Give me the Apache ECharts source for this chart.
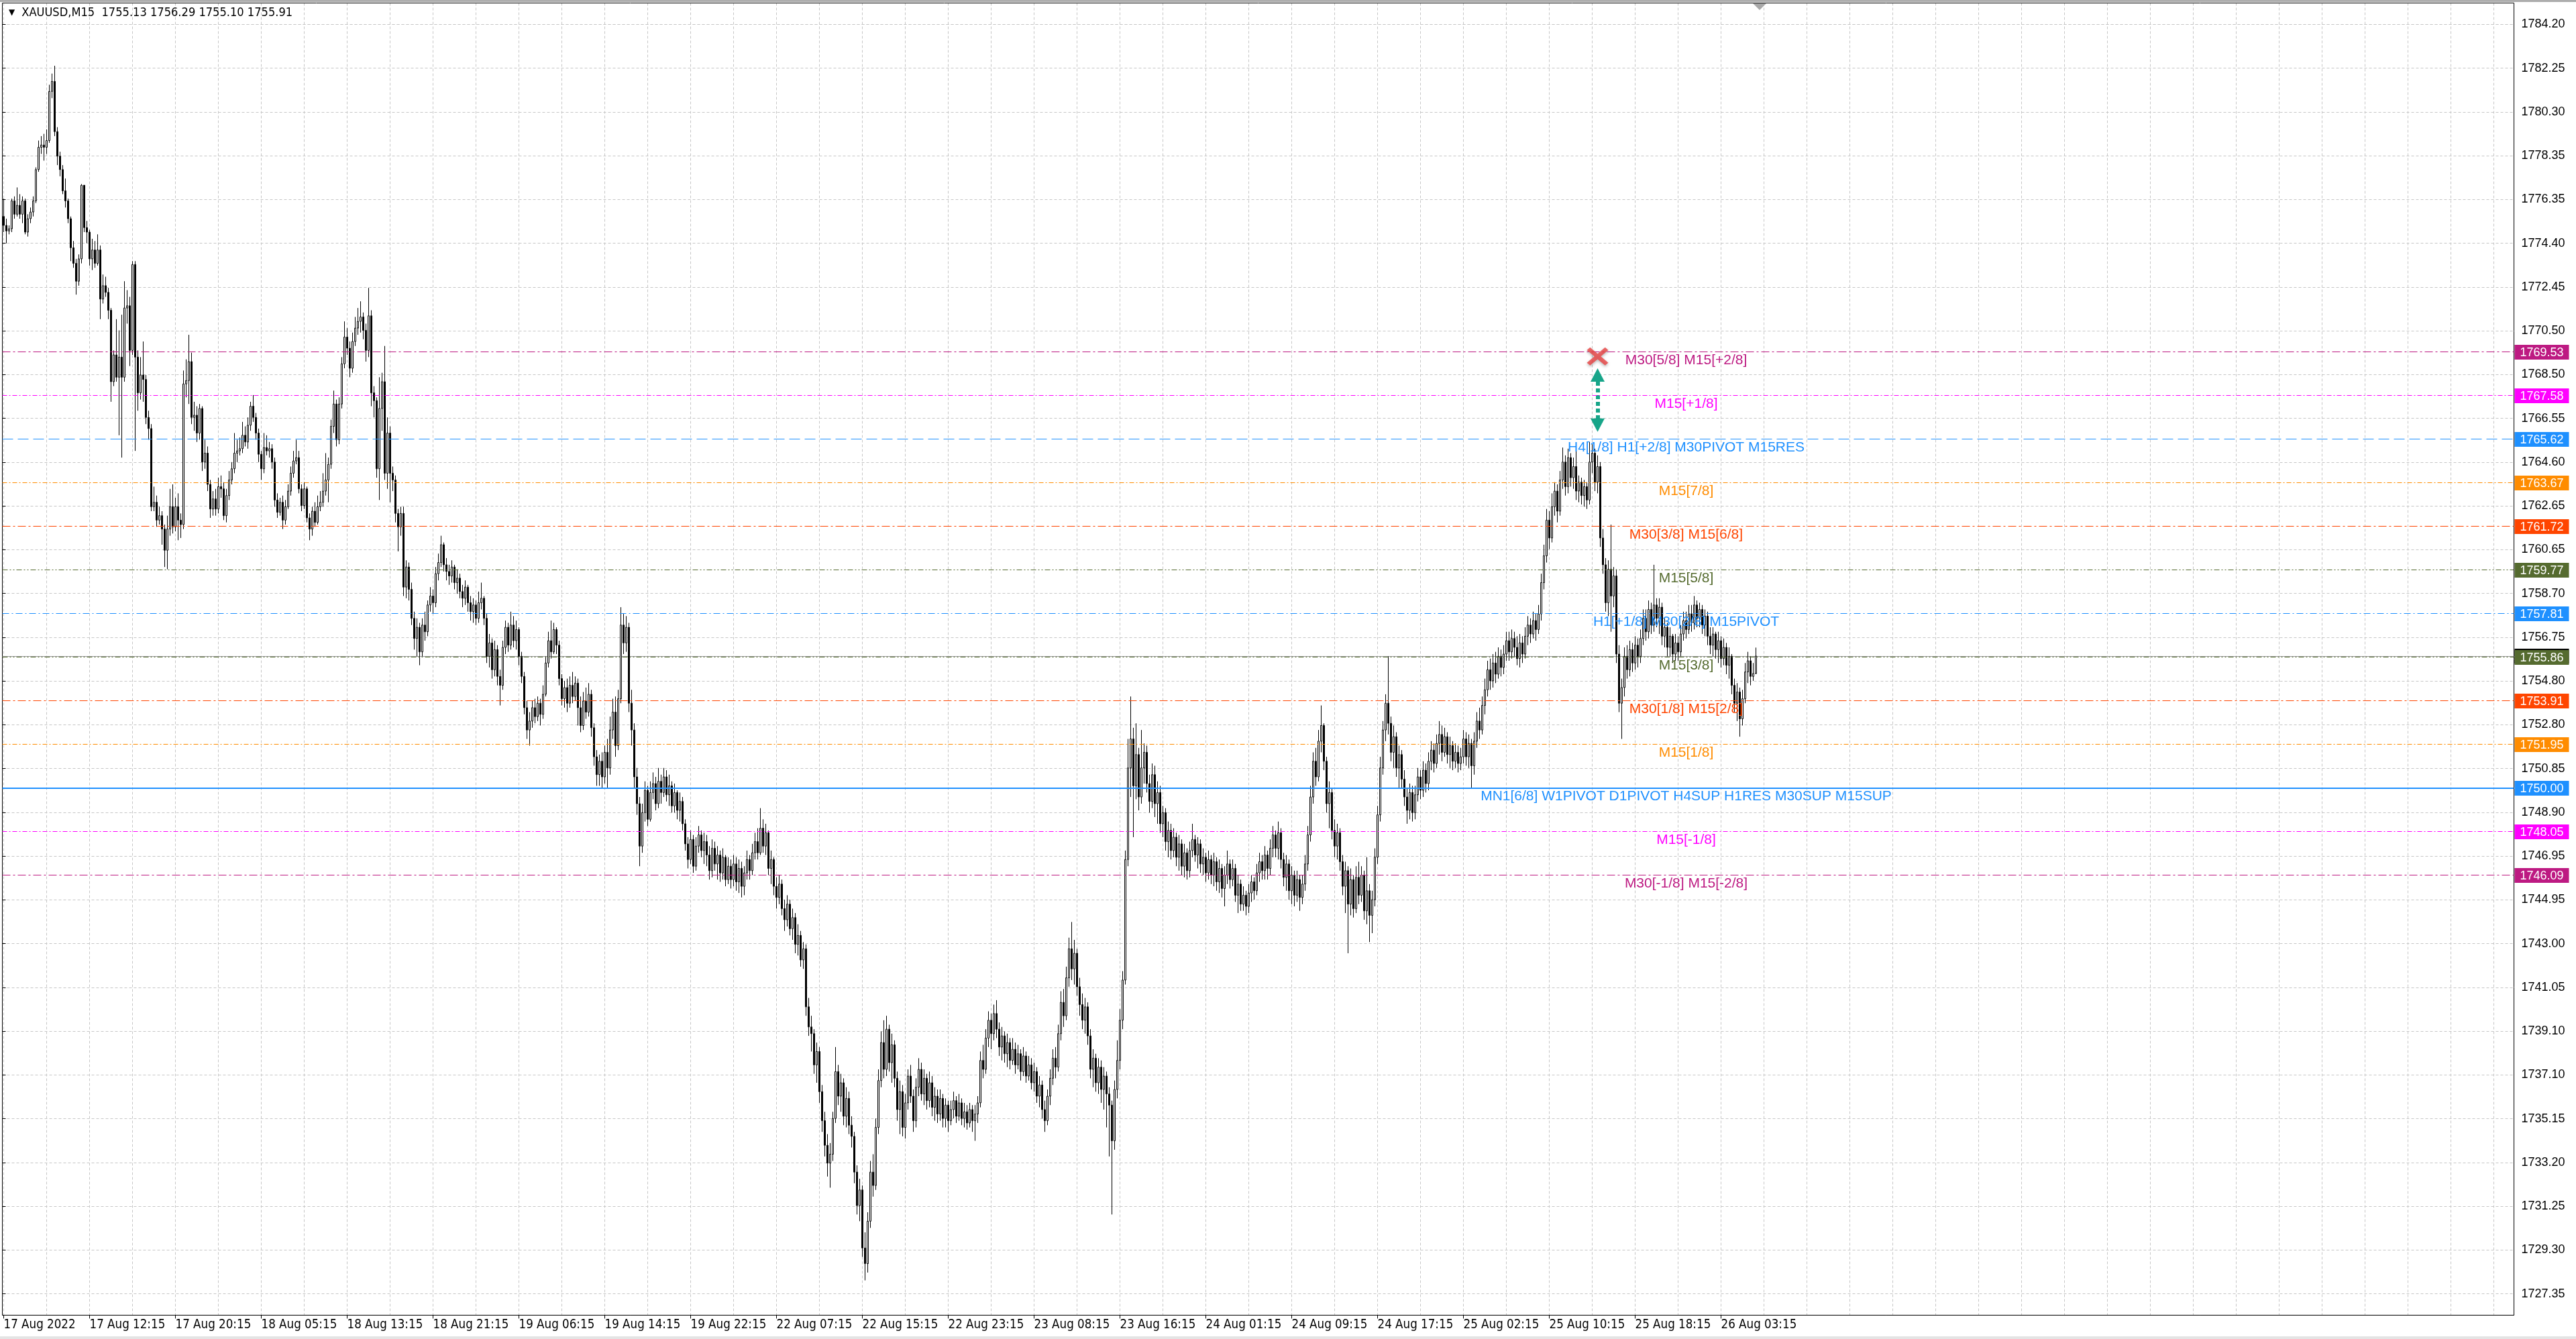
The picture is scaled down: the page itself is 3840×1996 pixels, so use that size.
<!DOCTYPE html>
<html><head><meta charset="utf-8">
<script src="https://cdn.jsdelivr.net/npm/echarts@6/dist/echarts.min.js"></script>
<style>html,body{margin:0;padding:0;background:#fff;overflow:hidden}#c{width:3840px;height:1996px}</style>
</head><body><div id="c"></div><script>
// ---------------- DATA ----------------
const symbolName = 'XAUUSD,M15';
const timeLabels = ['17 Aug 2022','17 Aug 12:15','17 Aug 20:15','18 Aug 05:15','18 Aug 13:15','18 Aug 21:15','19 Aug 06:15','19 Aug 14:15','19 Aug 22:15','22 Aug 07:15','22 Aug 15:15','22 Aug 23:15','23 Aug 08:15','23 Aug 16:15','24 Aug 01:15','24 Aug 09:15','24 Aug 17:15','25 Aug 02:15','25 Aug 10:15','25 Aug 18:15','26 Aug 03:15'];
const yTickLabels = ['1727.35','1729.30','1731.25','1733.20','1735.15','1737.10','1739.10','1741.05','1743.00','1744.95','1746.95','1748.90','1750.85','1752.80','1754.80','1756.75','1758.70','1760.65','1762.65','1764.60','1766.55','1768.50','1770.50','1772.45','1774.40','1776.35','1778.35','1780.30','1782.25','1784.20'];

const opens = [
1775.6,1775.2,1774.95,1775.05,1776.3,1775.7,1776.1,1775.7,1776.3,1774.9,1775.5,1775.8,1776.3,1777.7,1778.7,1778.8,
1778.7,1779.0,1781.2,1781.65,1779.4,1778.3,1777.7,1776.75,1776.3,1775.5,1774.2,1773.5,1772.7,1773.7,1777.0,1775.1,
1774.9,1773.7,1774.1,1773.5,1774.1,1771.9,1772.5,1772.2,1771.4,1768.2,1769.4,1768.4,1769.3,1768.4,1771.5,1771.6,
1769.6,1773.45,1769.3,1767.7,1768.5,1768.3,1766.6,1766.1,1762.6,1762.8,1762.0,1762.2,1761.6,1760.65,1761.6,1762.6,
1761.7,1762.6,1762.0,1761.8,1768.1,1768.25,1769.1,1766.6,1766.7,1765.9,1767.0,1764.6,1765.0,1763.6,1762.5,1762.95,
1762.5,1763.5,1763.4,1762.2,1763.1,1763.8,1764.3,1765.0,1765.1,1765.2,1765.8,1765.5,1766.25,1767.1,1766.6,1765.9,
1764.95,1764.3,1765.25,1765.1,1765.2,1764.6,1762.9,1762.35,1762.8,1762.0,1762.6,1763.3,1764.1,1764.65,1764.8,1763.4,
1762.65,1763.4,1762.1,1761.6,1762.4,1761.9,1762.6,1762.8,1763.3,1763.8,1764.5,1766.2,1767.2,1765.6,1767.2,1769.0,
1770.2,1769.7,1768.8,1770.0,1770.6,1770.9,1771.1,1770.5,1769.6,1771.15,1767.7,1767.35,1764.3,1767.0,1768.2,1764.1,
1765.9,1764.1,1763.8,1762.3,1761.7,1762.3,1759.0,1759.9,1758.9,1757.6,1756.7,1757.2,1756.1,1757.3,1757.0,1758.2,
1758.6,1758.3,1759.6,1760.1,1760.9,1760.0,1759.7,1759.5,1759.9,1759.2,1759.4,1758.8,1758.5,1759.0,1758.3,1757.9,
1758.2,1757.6,1758.3,1758.5,1757.6,1755.9,1756.5,1755.3,1756.2,1755.0,1754.6,1756.3,1757.2,1756.4,1757.3,1756.6,
1757.1,1755.9,1755.0,1753.6,1752.6,1753.0,1753.6,1753.2,1753.8,1753.3,1754.2,1755.6,1756.6,1756.1,1757.1,1756.4,
1754.9,1754.0,1754.5,1753.8,1754.6,1754.1,1754.7,1753.6,1752.8,1753.9,1753.4,1754.2,1752.7,1751.4,1750.6,1751.2,
1750.5,1751.6,1750.9,1752.6,1753.4,1751.9,1754.0,1757.3,1756.5,1757.2,1753.8,1752.6,1750.5,1749.3,1747.4,1748.9,
1749.9,1748.6,1749.8,1750.2,1749.3,1750.3,1749.8,1750.5,1749.7,1750.1,1749.2,1749.8,1749.0,1749.4,1748.4,1747.5,
1746.8,1747.7,1746.5,1747.4,1747.9,1747.2,1747.6,1747.0,1746.3,1747.3,1746.6,1747.0,1746.2,1746.9,1745.9,1746.5,
1745.9,1746.6,1745.8,1746.4,1745.6,1746.2,1746.8,1746.3,1747.1,1747.6,1747.1,1748.2,1747.4,1748.0,1746.4,1746.8,
1745.6,1745.1,1745.7,1744.6,1744.1,1744.8,1743.7,1744.2,1743.0,1743.4,1742.3,1742.8,1740.2,1739.3,1739.0,1737.6,
1738.2,1736.4,1735.1,1734.0,1733.2,1733.6,1735.2,1737.3,1736.2,1736.8,1735.3,1736.1,1734.9,1734.4,1732.8,1731.3,
1732.0,1729.4,1728.7,1730.6,1732.8,1732.2,1734.8,1736.9,1738.6,1737.4,1739.2,1737.7,1738.5,1737.0,1735.6,1736.4,
1734.8,1735.9,1737.1,1736.2,1735.1,1736.6,1737.4,1736.3,1737.0,1736.0,1736.8,1735.7,1736.2,1735.4,1736.1,1735.2,
1735.8,1735.1,1735.6,1736.0,1735.3,1735.9,1735.2,1735.5,1735.0,1735.6,1735.1,1735.4,1735.9,1737.8,1737.4,1738.8,
1739.6,1739.0,1739.9,1739.2,1738.4,1738.9,1738.1,1738.6,1737.8,1738.3,1737.6,1738.1,1737.3,1738.0,1737.1,1737.6,
1736.8,1737.3,1736.2,1736.7,1735.6,1735.1,1736.2,1737.0,1737.9,1737.5,1739.0,1740.4,1739.8,1741.5,1742.8,1741.9,
1742.6,1741.1,1740.3,1739.6,1740.2,1738.9,1737.4,1737.9,1736.8,1737.5,1736.5,1737.1,1736.3,1735.8,1734.2,1736.5,
1737.8,1739.6,1741.4,1746.8,1750.9,1752.2,1750.1,1751.5,1749.6,1750.9,1751.6,1750.2,1749.4,1750.6,1749.3,1749.8,
1748.4,1748.9,1747.6,1748.1,1747.2,1747.8,1746.9,1747.5,1746.5,1747.1,1746.3,1747.2,1747.7,1747.0,1747.5,1746.6,
1746.9,1746.2,1746.8,1746.1,1746.7,1745.8,1746.4,1745.5,1746.1,1746.6,1745.9,1746.4,1745.2,1745.7,1744.8,1745.2,
1744.7,1745.3,1745.8,1745.4,1746.2,1746.7,1746.3,1747.0,1746.4,1747.3,1747.9,1747.3,1748.0,1746.8,1746.0,1746.6,
1745.4,1746.1,1745.2,1745.9,1745.1,1745.7,1746.6,1747.9,1749.6,1751.2,1750.5,1752.1,1752.8,1751.2,1749.3,1749.8,
1748.1,1747.4,1748.0,1746.7,1745.6,1746.3,1744.8,1745.9,1744.6,1746.0,1745.2,1746.1,1744.5,1745.4,1744.3,1745.0,
1746.9,1748.8,1750.9,1752.6,1753.8,1752.9,1751.6,1752.3,1750.9,1751.5,1750.4,1749.6,1749.0,1749.8,1748.9,1749.7,
1750.5,1749.9,1750.8,1750.2,1751.2,1751.7,1751.1,1752.0,1752.4,1751.6,1752.3,1751.5,1751.9,1751.2,1751.6,1751.1,
1751.4,1752.2,1751.4,1752.0,1751.0,1752.1,1753.0,1752.6,1753.7,1754.4,1755.3,1754.8,1755.6,1755.1,1755.9,1755.4,
1756.0,1756.6,1756.1,1756.7,1756.3,1755.8,1756.5,1756.0,1756.8,1757.3,1756.9,1757.5,1757.1,1757.8,1759.2,1760.4,
1762.0,1761.2,1762.6,1763.3,1762.4,1763.8,1764.6,1763.5,1764.8,1763.9,1764.4,1763.3,1763.7,1763.1,1763.5,1762.9,
1764.6,1765.0,1763.7,1764.4,1761.2,1760.0,1758.3,1759.8,1758.6,1759.5,1756.0,1753.8,1754.5,1755.9,1755.3,1756.2,
1755.6,1756.4,1755.9,1756.7,1757.6,1757.0,1758.0,1757.3,1758.2,1757.6,1758.1,1756.8,1757.2,1756.3,1756.8,1756.0,
1756.5,1756.1,1756.9,1757.5,1757.1,1757.8,1757.4,1758.2,1757.6,1758.0,1757.3,1757.7,1756.8,1756.4,1756.9,1756.2,
1756.6,1755.8,1756.3,1755.5,1755.9,1754.6,1753.8,1754.3,1753.1,1754.0,1755.2,1755.7,1755.0,1755.13
];
const highs = [
1776.4,1775.5,1775.2,1776.4,1776.5,1776.9,1776.6,1776.5,1776.4,1775.7,1776.0,1776.5,1777.8,1779.0,1779.2,1779.3,
1779.5,1781.5,1782.0,1782.35,1779.6,1778.5,1777.9,1777.3,1776.4,1775.6,1774.5,1773.7,1773.9,1777.05,1777.0,1775.4,
1775.0,1774.6,1774.5,1774.8,1774.3,1773.0,1772.9,1772.4,1771.5,1769.6,1771.0,1770.5,1771.2,1772.7,1772.3,1772.0,
1773.6,1773.6,1769.6,1769.3,1770.0,1768.5,1766.9,1766.3,1763.5,1763.1,1762.6,1762.4,1761.8,1762.2,1763.4,1763.6,
1763.0,1763.2,1762.3,1768.7,1769.2,1770.3,1769.5,1767.3,1767.1,1767.2,1767.1,1765.6,1765.3,1763.8,1763.3,1763.4,
1763.9,1764.0,1763.7,1763.4,1764.2,1764.6,1765.9,1765.6,1765.7,1766.4,1766.2,1766.6,1767.3,1767.6,1766.8,1766.1,
1765.1,1765.9,1765.8,1765.5,1765.4,1764.8,1763.2,1763.0,1763.1,1762.9,1763.6,1764.4,1765.1,1765.6,1765.1,1763.6,
1763.7,1763.5,1762.3,1762.6,1762.8,1763.1,1763.3,1764.1,1765.0,1764.8,1766.5,1767.8,1767.4,1767.5,1769.3,1770.9,
1770.6,1770.0,1770.4,1771.1,1771.5,1771.8,1771.3,1770.8,1772.4,1771.4,1768.0,1767.5,1768.4,1768.6,1769.8,1766.6,
1766.2,1764.4,1764.0,1762.5,1762.6,1762.6,1760.2,1760.1,1759.2,1757.9,1757.6,1757.4,1757.6,1757.9,1758.4,1759.0,
1758.9,1759.9,1760.5,1761.3,1761.0,1760.3,1760.0,1760.2,1760.0,1759.8,1759.6,1759.1,1759.3,1759.1,1758.6,1758.5,
1758.4,1758.8,1759.2,1758.6,1757.8,1756.9,1756.7,1756.6,1756.4,1755.3,1756.6,1757.5,1757.4,1757.9,1757.7,1757.5,
1757.2,1756.1,1755.2,1753.9,1753.4,1753.9,1754.0,1754.1,1754.0,1754.6,1755.9,1757.0,1757.5,1757.4,1757.2,1756.6,
1755.1,1754.8,1754.9,1755.0,1755.2,1755.0,1754.9,1754.1,1754.3,1754.5,1754.7,1754.4,1752.9,1751.7,1751.5,1751.6,
1751.9,1752.2,1753.2,1754.0,1754.1,1754.4,1758.1,1757.8,1757.7,1757.4,1754.4,1752.9,1750.9,1749.6,1749.3,1750.3,
1750.1,1750.3,1750.7,1750.5,1750.9,1750.6,1750.9,1750.8,1750.6,1750.3,1750.2,1749.9,1749.8,1749.6,1748.6,1747.8,
1748.1,1747.9,1747.8,1748.3,1748.1,1748.0,1747.9,1747.4,1747.7,1747.6,1747.4,1747.2,1747.3,1747.0,1746.9,1746.8,
1747.0,1746.9,1746.8,1746.7,1746.5,1747.2,1747.0,1747.5,1748.0,1748.2,1749.1,1748.6,1748.4,1748.1,1747.2,1746.9,
1746.0,1746.1,1745.9,1745.0,1745.2,1745.0,1744.6,1744.4,1743.9,1743.6,1743.1,1743.0,1740.6,1739.8,1739.2,1738.6,
1738.4,1736.7,1735.5,1734.5,1734.1,1735.5,1738.4,1737.6,1737.2,1737.0,1736.6,1736.4,1735.3,1734.6,1733.1,1732.5,
1732.2,1730.1,1731.0,1733.3,1733.6,1735.2,1737.4,1739.1,1739.6,1739.8,1739.4,1739.0,1738.7,1737.3,1736.9,1736.7,
1736.3,1737.4,1737.6,1736.5,1737.0,1737.9,1737.7,1737.4,1737.2,1737.3,1737.1,1736.6,1736.5,1736.5,1736.3,1736.1,
1736.0,1736.0,1736.4,1736.2,1736.3,1736.1,1735.9,1735.8,1735.9,1735.8,1735.8,1736.2,1738.2,1738.5,1739.2,1740.0,
1739.9,1740.3,1740.5,1739.5,1739.3,1739.1,1739.0,1738.8,1738.8,1738.6,1738.5,1738.3,1738.4,1738.2,1738.0,1737.9,
1737.7,1737.5,1737.1,1736.9,1736.0,1736.5,1737.4,1738.3,1738.4,1739.4,1740.9,1741.0,1742.0,1743.3,1744.0,1743.2,
1742.8,1741.5,1740.8,1740.6,1740.4,1739.2,1738.3,1738.1,1737.9,1737.8,1737.5,1737.3,1736.6,1736.0,1736.9,1738.7,
1740.1,1741.8,1747.2,1752.2,1754.1,1752.7,1752.9,1751.8,1752.6,1752.0,1751.9,1750.6,1751.1,1751.0,1750.3,1750.1,
1749.2,1749.1,1748.5,1748.4,1748.2,1748.0,1747.9,1747.7,1747.5,1747.3,1747.6,1748.4,1747.9,1747.8,1747.7,1747.3,
1747.1,1747.2,1747.0,1747.1,1746.9,1746.8,1746.6,1746.5,1747.2,1746.8,1746.8,1746.6,1746.1,1745.9,1745.6,1745.4,
1745.7,1746.1,1746.0,1746.6,1747.1,1747.0,1747.4,1747.2,1747.7,1748.3,1748.1,1748.5,1748.2,1747.1,1747.0,1746.8,
1746.5,1746.3,1746.3,1746.1,1746.1,1747.0,1748.3,1750.1,1751.6,1751.8,1752.6,1753.7,1752.9,1751.4,1750.3,1750.0,
1748.6,1748.4,1748.2,1747.0,1746.7,1746.5,1746.4,1746.1,1746.5,1746.7,1746.5,1746.3,1746.9,1745.7,1745.4,1747.3,
1749.2,1751.4,1753.0,1754.2,1755.9,1753.2,1752.8,1752.5,1751.9,1751.7,1750.8,1750.0,1750.2,1750.1,1750.1,1750.9,
1750.8,1751.2,1751.1,1751.6,1752.1,1752.0,1752.4,1753.0,1752.8,1752.7,1752.5,1752.3,1752.1,1752.0,1751.9,1751.8,
1752.6,1752.5,1752.4,1752.2,1752.5,1753.4,1753.6,1754.1,1754.9,1755.7,1755.8,1756.0,1756.1,1756.3,1756.2,1756.4,
1757.0,1757.0,1757.1,1757.0,1756.8,1756.9,1756.8,1757.2,1757.7,1757.6,1757.9,1757.8,1758.2,1759.6,1760.9,1762.5,
1762.4,1763.2,1763.7,1763.6,1764.2,1765.25,1764.9,1765.2,1765.0,1764.8,1765.1,1764.0,1763.9,1763.8,1763.7,1765.5,
1765.4,1765.2,1764.9,1764.6,1761.6,1760.3,1760.2,1761.8,1759.9,1759.8,1756.4,1754.9,1756.3,1756.4,1756.6,1756.5,
1756.8,1756.7,1757.1,1758.0,1758.0,1758.4,1758.3,1760.0,1758.5,1758.5,1758.3,1757.6,1757.4,1757.2,1756.9,1756.9,
1756.8,1757.3,1757.9,1757.9,1758.2,1758.2,1758.6,1758.4,1758.3,1758.2,1758.0,1757.9,1757.2,1757.2,1757.0,1757.0,
1756.8,1756.7,1756.5,1756.3,1756.0,1754.9,1754.7,1754.5,1754.4,1755.6,1756.1,1755.9,1755.6,1756.29
];
const lows = [
1774.9,1774.4,1774.8,1774.9,1775.5,1775.6,1775.5,1775.3,1774.8,1774.7,1775.3,1775.6,1776.2,1777.6,1778.4,1778.1,
1778.4,1778.9,1780.9,1779.2,1777.9,1777.4,1776.6,1776.0,1775.3,1773.6,1773.3,1772.1,1772.5,1773.5,1774.9,1774.4,
1773.4,1773.2,1773.3,1773.4,1771.0,1771.7,1772.0,1771.0,1767.3,1768.0,1768.2,1765.8,1764.8,1768.2,1770.8,1768.9,
1769.4,1765.1,1766.9,1767.4,1767.3,1766.3,1765.6,1762.4,1762.4,1761.7,1761.8,1760.9,1759.9,1759.8,1761.3,1761.4,
1761.5,1761.1,1761.2,1761.6,1767.5,1767.2,1766.3,1766.0,1765.5,1765.6,1764.2,1764.3,1763.3,1762.1,1762.2,1762.2,
1762.3,1763.0,1762.0,1761.9,1762.9,1763.6,1764.1,1764.6,1764.9,1765.0,1765.3,1765.2,1766.0,1766.4,1765.6,1764.6,
1763.8,1764.1,1764.9,1764.8,1764.3,1762.6,1762.1,1762.2,1761.6,1761.8,1762.5,1763.1,1763.9,1764.5,1763.2,1762.4,
1762.5,1761.9,1761.1,1761.3,1761.7,1761.8,1762.4,1762.6,1763.1,1762.8,1764.3,1765.9,1765.3,1765.4,1767.0,1768.8,
1769.4,1768.4,1768.6,1769.8,1770.3,1770.4,1770.1,1769.1,1769.3,1767.1,1766.6,1763.9,1762.9,1766.0,1763.8,1763.4,
1762.8,1763.3,1761.9,1760.6,1761.3,1758.6,1758.5,1758.4,1757.3,1756.2,1755.9,1755.5,1755.9,1756.6,1756.8,1757.9,
1757.8,1758.1,1759.3,1759.9,1759.7,1759.3,1759.1,1759.2,1758.9,1758.7,1758.5,1758.1,1758.2,1757.9,1757.5,1757.4,
1757.3,1757.4,1758.0,1757.3,1755.6,1755.4,1754.9,1755.0,1754.6,1753.7,1754.4,1756.0,1756.1,1756.2,1756.3,1756.2,
1755.5,1754.7,1753.3,1752.2,1751.9,1752.7,1752.9,1753.0,1752.8,1753.1,1754.1,1755.4,1755.8,1756.0,1756.0,1754.6,
1753.7,1753.6,1753.4,1753.6,1753.8,1753.9,1752.8,1752.5,1752.6,1753.1,1753.2,1752.3,1751.0,1750.1,1750.1,1750.0,
1750.2,1750.0,1750.6,1752.2,1751.4,1751.7,1753.8,1756.0,1756.1,1753.4,1751.9,1750.0,1748.8,1746.5,1747.1,1748.5,
1748.3,1748.5,1749.5,1749.0,1749.1,1749.3,1749.6,1749.4,1749.2,1748.9,1748.9,1748.6,1748.5,1748.1,1747.2,1746.4,
1746.6,1746.2,1746.3,1747.1,1746.9,1746.6,1746.5,1745.9,1746.0,1746.3,1745.9,1745.8,1745.9,1745.6,1745.7,1745.5,
1745.6,1745.4,1745.3,1745.1,1745.2,1745.9,1745.9,1746.1,1746.8,1746.8,1747.0,1747.1,1747.0,1746.1,1745.7,1745.2,
1744.6,1744.8,1744.3,1743.6,1743.8,1743.4,1743.2,1742.6,1742.5,1742.0,1741.9,1739.8,1738.9,1738.2,1737.2,1736.8,
1735.9,1734.6,1733.5,1732.6,1732.1,1733.3,1735.0,1735.8,1735.5,1734.9,1734.8,1734.5,1733.9,1732.3,1730.9,1730.6,
1729.0,1727.95,1728.3,1730.3,1731.7,1732.0,1734.5,1736.6,1737.0,1737.1,1737.3,1736.8,1736.6,1735.1,1734.5,1734.4,
1734.3,1735.6,1735.9,1734.6,1734.8,1736.2,1736.0,1735.8,1735.6,1735.7,1735.3,1735.1,1735.0,1735.1,1734.8,1734.8,
1734.6,1734.9,1735.2,1735.0,1735.1,1734.9,1734.8,1734.7,1734.8,1734.6,1734.2,1735.0,1735.7,1737.0,1737.2,1738.4,
1738.3,1738.7,1738.8,1738.0,1737.8,1737.7,1737.5,1737.4,1737.6,1737.2,1737.4,1736.9,1737.1,1736.8,1736.9,1736.5,
1736.4,1735.9,1735.7,1735.2,1734.6,1734.9,1735.8,1736.7,1737.0,1737.3,1738.7,1739.3,1739.6,1741.1,1741.4,1741.2,
1740.7,1739.8,1739.2,1739.0,1738.5,1737.0,1736.6,1736.4,1736.3,1735.9,1735.6,1734.8,1733.5,1730.9,1733.8,1736.1,
1737.4,1739.2,1741.2,1746.5,1749.6,1747.8,1749.5,1749.0,1749.3,1750.2,1749.8,1748.9,1749.1,1748.7,1748.4,1748.0,
1747.8,1747.2,1746.9,1746.8,1746.9,1746.5,1746.3,1746.1,1746.0,1745.9,1746.0,1746.9,1746.7,1746.4,1746.2,1746.1,
1745.8,1745.9,1745.7,1745.6,1745.4,1745.3,1745.1,1744.7,1745.7,1745.5,1745.6,1744.9,1744.4,1744.5,1744.5,1744.3,
1744.4,1744.9,1745.0,1745.2,1745.8,1745.9,1745.9,1745.9,1746.1,1746.9,1746.9,1746.8,1746.4,1745.6,1745.4,1745.0,
1744.8,1744.7,1744.9,1744.5,1744.8,1745.4,1746.3,1747.6,1749.3,1750.1,1750.3,1751.6,1750.8,1748.9,1748.2,1747.7,
1746.9,1746.8,1746.3,1745.2,1744.4,1742.6,1744.3,1744.2,1744.4,1744.8,1744.9,1744.1,1743.9,1743.1,1743.5,1744.7,
1746.6,1748.5,1750.6,1752.1,1752.4,1751.2,1750.9,1750.5,1750.0,1750.0,1749.2,1748.4,1748.6,1748.5,1748.6,1749.4,
1749.5,1749.6,1749.8,1749.9,1750.8,1750.7,1750.9,1751.5,1751.2,1751.4,1751.1,1750.9,1750.8,1750.9,1750.7,1750.8,
1751.1,1751.0,1750.9,1750.0,1750.6,1751.8,1752.2,1752.4,1753.3,1754.1,1754.4,1754.5,1754.7,1754.9,1755.0,1755.1,
1755.7,1755.7,1755.8,1755.9,1755.5,1755.4,1755.6,1755.8,1756.4,1756.5,1756.7,1756.6,1756.9,1757.5,1758.9,1760.1,
1760.7,1761.0,1762.2,1761.9,1762.2,1763.4,1763.1,1763.2,1763.5,1763.4,1762.9,1762.8,1762.7,1762.6,1762.5,1762.7,
1764.1,1763.3,1763.2,1760.8,1759.6,1757.9,1757.7,1757.0,1758.1,1755.6,1753.4,1752.2,1754.1,1754.9,1755.0,1755.2,
1755.3,1755.4,1755.6,1756.4,1756.6,1756.7,1756.9,1757.0,1757.2,1756.9,1756.4,1756.3,1755.9,1755.9,1755.6,1755.7,
1755.7,1755.9,1756.6,1756.7,1756.9,1757.0,1757.1,1757.2,1757.2,1756.9,1756.8,1756.4,1756.0,1755.9,1755.8,1755.6,
1755.4,1755.5,1755.1,1754.9,1754.2,1753.4,1753.0,1752.3,1752.8,1753.8,1754.7,1754.6,1754.8,1755.10
];
const closes = [
1775.2,1774.95,1775.05,1776.3,1775.7,1776.1,1775.7,1776.3,1774.9,1775.5,1775.8,1776.3,1777.7,1778.7,1778.8,1778.7,
1779.0,1781.2,1781.65,1779.4,1778.3,1777.7,1776.75,1776.3,1775.5,1774.2,1773.5,1772.7,1773.7,1777.0,1775.1,1774.9,
1773.7,1774.1,1773.5,1774.1,1771.9,1772.5,1772.2,1771.4,1768.2,1769.4,1768.4,1769.3,1768.4,1771.5,1771.6,1769.6,
1773.45,1769.3,1767.7,1768.5,1768.3,1766.6,1766.1,1762.6,1762.8,1762.0,1762.2,1761.6,1760.65,1761.6,1762.6,1761.7,
1762.6,1762.0,1761.8,1768.1,1768.25,1769.1,1766.6,1766.7,1765.9,1767.0,1764.6,1765.0,1763.6,1762.5,1762.95,1762.5,
1763.5,1763.4,1762.2,1763.1,1763.8,1764.3,1765.0,1765.1,1765.2,1765.8,1765.5,1766.25,1767.1,1766.6,1765.9,1764.95,
1764.3,1765.25,1765.1,1765.2,1764.6,1762.9,1762.35,1762.8,1762.0,1762.6,1763.3,1764.1,1764.65,1764.8,1763.4,1762.65,
1763.4,1762.1,1761.6,1762.4,1761.9,1762.6,1762.8,1763.3,1763.8,1764.5,1766.2,1767.2,1765.6,1767.2,1769.0,1770.2,
1769.7,1768.8,1770.0,1770.6,1770.9,1771.1,1770.5,1769.6,1771.15,1767.7,1767.35,1764.3,1767.0,1768.2,1764.1,1765.9,
1764.1,1763.8,1762.3,1761.7,1762.3,1759.0,1759.9,1758.9,1757.6,1756.7,1757.2,1756.1,1757.3,1757.0,1758.2,1758.6,
1758.3,1759.6,1760.1,1760.9,1760.0,1759.7,1759.5,1759.9,1759.2,1759.4,1758.8,1758.5,1759.0,1758.3,1757.9,1758.2,
1757.6,1758.3,1758.5,1757.6,1755.9,1756.5,1755.3,1756.2,1755.0,1754.6,1756.3,1757.2,1756.4,1757.3,1756.6,1757.1,
1755.9,1755.0,1753.6,1752.6,1753.0,1753.6,1753.2,1753.8,1753.3,1754.2,1755.6,1756.6,1756.1,1757.1,1756.4,1754.9,
1754.0,1754.5,1753.8,1754.6,1754.1,1754.7,1753.6,1752.8,1753.9,1753.4,1754.2,1752.7,1751.4,1750.6,1751.2,1750.5,
1751.6,1750.9,1752.6,1753.4,1751.9,1754.0,1757.3,1756.5,1757.2,1753.8,1752.6,1750.5,1749.3,1747.4,1748.9,1749.9,
1748.6,1749.8,1750.2,1749.3,1750.3,1749.8,1750.5,1749.7,1750.1,1749.2,1749.8,1749.0,1749.4,1748.4,1747.5,1746.8,
1747.7,1746.5,1747.4,1747.9,1747.2,1747.6,1747.0,1746.3,1747.3,1746.6,1747.0,1746.2,1746.9,1745.9,1746.5,1745.9,
1746.6,1745.8,1746.4,1745.6,1746.2,1746.8,1746.3,1747.1,1747.6,1747.1,1748.2,1747.4,1748.0,1746.4,1746.8,1745.6,
1745.1,1745.7,1744.6,1744.1,1744.8,1743.7,1744.2,1743.0,1743.4,1742.3,1742.8,1740.2,1739.3,1739.0,1737.6,1738.2,
1736.4,1735.1,1734.0,1733.2,1733.6,1735.2,1737.3,1736.2,1736.8,1735.3,1736.1,1734.9,1734.4,1732.8,1731.3,1732.0,
1729.4,1728.7,1730.6,1732.8,1732.2,1734.8,1736.9,1738.6,1737.4,1739.2,1737.7,1738.5,1737.0,1735.6,1736.4,1734.8,
1735.9,1737.1,1736.2,1735.1,1736.6,1737.4,1736.3,1737.0,1736.0,1736.8,1735.7,1736.2,1735.4,1736.1,1735.2,1735.8,
1735.1,1735.6,1736.0,1735.3,1735.9,1735.2,1735.5,1735.0,1735.6,1735.1,1735.4,1735.9,1737.8,1737.4,1738.8,1739.6,
1739.0,1739.9,1739.2,1738.4,1738.9,1738.1,1738.6,1737.8,1738.3,1737.6,1738.1,1737.3,1738.0,1737.1,1737.6,1736.8,
1737.3,1736.2,1736.7,1735.6,1735.1,1736.2,1737.0,1737.9,1737.5,1739.0,1740.4,1739.8,1741.5,1742.8,1741.9,1742.6,
1741.1,1740.3,1739.6,1740.2,1738.9,1737.4,1737.9,1736.8,1737.5,1736.5,1737.1,1736.3,1735.8,1734.2,1736.5,1737.8,
1739.6,1741.4,1746.8,1750.9,1752.2,1750.1,1751.5,1749.6,1750.9,1751.6,1750.2,1749.4,1750.6,1749.3,1749.8,1748.4,
1748.9,1747.6,1748.1,1747.2,1747.8,1746.9,1747.5,1746.5,1747.1,1746.3,1747.2,1747.7,1747.0,1747.5,1746.6,1746.9,
1746.2,1746.8,1746.1,1746.7,1745.8,1746.4,1745.5,1746.1,1746.6,1745.9,1746.4,1745.2,1745.7,1744.8,1745.2,1744.7,
1745.3,1745.8,1745.4,1746.2,1746.7,1746.3,1747.0,1746.4,1747.3,1747.9,1747.3,1748.0,1746.8,1746.0,1746.6,1745.4,
1746.1,1745.2,1745.9,1745.1,1745.7,1746.6,1747.9,1749.6,1751.2,1750.5,1752.1,1752.8,1751.2,1749.3,1749.8,1748.1,
1747.4,1748.0,1746.7,1745.6,1746.3,1744.8,1745.9,1744.6,1746.0,1745.2,1746.1,1744.5,1745.4,1744.3,1745.0,1746.9,
1748.8,1750.9,1752.6,1753.8,1752.9,1751.6,1752.3,1750.9,1751.5,1750.4,1749.6,1749.0,1749.8,1748.9,1749.7,1750.5,
1749.9,1750.8,1750.2,1751.2,1751.7,1751.1,1752.0,1752.4,1751.6,1752.3,1751.5,1751.9,1751.2,1751.6,1751.1,1751.4,
1752.2,1751.4,1752.0,1751.0,1752.1,1753.0,1752.6,1753.7,1754.4,1755.3,1754.8,1755.6,1755.1,1755.9,1755.4,1756.0,
1756.6,1756.1,1756.7,1756.3,1755.8,1756.5,1756.0,1756.8,1757.3,1756.9,1757.5,1757.1,1757.8,1759.2,1760.4,1762.0,
1761.2,1762.6,1763.3,1762.4,1763.8,1764.6,1763.5,1764.8,1763.9,1764.4,1763.3,1763.7,1763.1,1763.5,1762.9,1764.6,
1765.0,1763.7,1764.4,1761.2,1760.0,1758.3,1759.8,1758.6,1759.5,1756.0,1753.8,1754.5,1755.9,1755.3,1756.2,1755.6,
1756.4,1755.9,1756.7,1757.6,1757.0,1758.0,1757.3,1758.2,1757.6,1758.1,1756.8,1757.2,1756.3,1756.8,1756.0,1756.5,
1756.1,1756.9,1757.5,1757.1,1757.8,1757.4,1758.2,1757.6,1758.0,1757.3,1757.7,1756.8,1756.4,1756.9,1756.2,1756.6,
1755.8,1756.3,1755.5,1755.9,1754.6,1753.8,1754.3,1753.1,1754.0,1755.2,1755.7,1755.0,1755.13,1755.91
];

const levelValues = [1769.53, 1767.58, 1765.62, 1763.67, 1761.72, 1759.77, 1757.81, 1755.86, 1753.91, 1751.95, 1750.00, 1748.05, 1746.09];
const levelNames = ['M30[5/8] M15[+2/8]', 'M15[+1/8]', 'H4[1/8] H1[+2/8] M30PIVOT M15RES', 'M15[7/8]', 'M30[3/8] M15[6/8]', 'M15[5/8]', 'H1[+1/8] M30[2/8] M15PIVOT', 'M15[3/8]', 'M30[1/8] M15[2/8]', 'M15[1/8]', 'MN1[6/8] W1PIVOT D1PIVOT H4SUP H1RES M30SUP M15SUP', 'M15[-1/8]', 'M30[-1/8] M15[-2/8]'];
const bidPrice = 1755.91;
const signalBar = 594;
const signalCrossPrice = 1769.33;
const signalArrowTop = 1768.5;
const signalArrowBottom = 1766.25;

// ---------------- STYLE / LAYOUT ----------------
const VIOLET = '#BD1A82', MAGENTA = '#FF00FF', BLUE = '#1E90FF', ORANGE = '#FF8C00', RED = '#FF4500', OLIVE = '#556B2F';
const levelColors = [VIOLET, MAGENTA, BLUE, ORANGE, RED, OLIVE, BLUE, OLIVE, RED, ORANGE, BLUE, MAGENTA, VIOLET];
const DD = [12, 4, 3, 4], DS = [7, 3, 2, 3], LD = [16, 7], DDD = [8, 3, 2, 3, 2, 3];
const levelDash = [DD, DS, LD, DS, DD, DDD, [10, 4, 2, 4], DDD, DD, DS, null, DS, DD];
const levelWidth = [1, 1, 1, 1, 1, 1, 1, 1, 1, 1, 2, 1, 1];

const W = 3840, H = 1996;
const LEFT = 3.5, RIGHT_EDGE = 3747.5, TOP = 4.5, BOTTOM_EDGE = 1960.5;
const SLOT_COUNT = 936;
const BAND = (RIGHT_EDGE - LEFT) / SLOT_COUNT;
const PRICE_MIN = 1726.39, PRICE_MAX = 1785.16;
const PX = (BOTTOM_EDGE - TOP) / (PRICE_MAX - PRICE_MIN);
const TICK_MIN = parseFloat(yTickLabels[0]);
const TICK_MAX = parseFloat(yTickLabels[yTickLabels.length - 1]);
const TICK_STEP = (TICK_MAX - TICK_MIN) / (yTickLabels.length - 1);
const LABEL_SLOT = 627;
const LABELS_EVERY = 32, GRID_EVERY = 16;
const GRIDCOLOR = '#C6C6C6';
const TAG_W = 81, TAG_H = 22, TAG_GAP = 1;

// font helpers (pick an installed narrow face, fit it to the reference width)
const measureCtx = document.createElement('canvas').getContext('2d');
function fontAvailable(name) {
  const s = 'mmmmmmmmmmlli 1234567890 WWWAug';
  return ['monospace', 'serif', 'sans-serif'].some(fb => {
    measureCtx.font = '40px ' + fb; const w0 = measureCtx.measureText(s).width;
    measureCtx.font = '40px "' + name + '", ' + fb; return Math.abs(measureCtx.measureText(s).width - w0) > 0.01;
  });
}
function pickFont(list) { for (const f of list) if (fontAvailable(f)) return '"' + f + '"'; return 'sans-serif'; }
function fitSize(family, sample, target, max) {
  measureCtx.font = '100px ' + family; const w = measureCtx.measureText(sample).width;
  return Math.min(max, Math.round(1000 * target / w) / 10);
}
const SANS = pickFont(['Liberation Sans', 'Arial', 'DejaVu Sans']);
const NARROW = pickFont(['Liberation Sans Narrow', 'Arial Narrow', 'DejaVu Sans Condensed', 'Liberation Sans']);

const slots = Array.from({length: SLOT_COUNT}, (_, i) => String(i));
const candles = opens.map((o, i) => [o, closes[i], lows[i], highs[i]]);
const last = opens.length - 1;
const titleText = symbolName + '  ' + [opens[last], highs[last], lows[last], closes[last]].map(v => v.toFixed(2)).join(' ');
const TIME_SIZE = fitSize(NARROW, timeLabels[1], 113, 23);
const TITLE_SIZE = fitSize(NARROW, titleText, 403, 22);

const chart = echarts.init(document.getElementById('c'), null, {renderer: 'canvas', width: W, height: H});
const grid1Top = TOP + (PRICE_MAX - TICK_MAX) * PX;
const grid1Bottom = H - (TOP + (PRICE_MAX - TICK_MIN) * PX);

function crisp(y, lw) { return lw % 2 ? Math.round(y - 0.5) + 0.5 : Math.round(y); }

function renderLevel(params, api) {
  const k = api.value(0), price = api.value(1);
  const cs = params.coordSys;
  const yRaw = api.coord([0, price])[1];
  const lw = levelWidth[k];
  const y = crisp(yRaw, lw);
  const tx = api.coord([LABEL_SLOT, price])[0];
  const tagX = cs.x + cs.width + TAG_GAP;
  const ty = Math.round(yRaw);
  return {type: 'group', children: [
    {type: 'line', shape: {x1: cs.x, y1: y, x2: cs.x + cs.width, y2: y},
      style: {stroke: levelColors[k], lineWidth: lw, lineDash: levelDash[k]}},
    {type: 'rect', shape: {x: tagX, y: ty - TAG_H / 2, width: TAG_W, height: TAG_H}, style: {fill: levelColors[k]}},
    {type: 'text', style: {text: price.toFixed(2), x: tagX + TAG_W / 2, y: ty + 1, fill: '#fff', font: '18px ' + SANS, align: 'center', verticalAlign: 'middle'}},
    {type: 'text', style: {text: levelNames[k], x: tx, y: y + 2, fill: levelColors[k], font: '21px ' + SANS, align: 'center', verticalAlign: 'top'}}
  ]};
}
function renderBid(params, api) {
  const price = api.value(1);
  const cs = params.coordSys;
  const yRaw = api.coord([0, price])[1];
  const y = crisp(yRaw, 1);
  const tagX = cs.x + cs.width + TAG_GAP;
  const ty = Math.round(yRaw);
  return {type: 'group', children: [
    {type: 'line', shape: {x1: cs.x, y1: y, x2: cs.x + cs.width, y2: y}, style: {stroke: '#9A9A9A', lineWidth: 1}},
    {type: 'rect', shape: {x: tagX, y: ty - TAG_H / 2, width: TAG_W, height: TAG_H}, style: {fill: '#000'}},
    {type: 'text', style: {text: price.toFixed(2), x: tagX + TAG_W / 2, y: ty + 1, fill: '#fff', font: '18px ' + SANS, align: 'center', verticalAlign: 'middle'}}
  ]};
}

const labelFilter = (idx) => idx % LABELS_EVERY === 0 && idx / LABELS_EVERY < timeLabels.length;

chart.setOption({
  animation: false,
  backgroundColor: '#ffffff',
  textStyle: {fontFamily: SANS},
  title: {
    left: 8, top: 5,
    text: '{t|▼}' + titleText,
    textStyle: {fontFamily: NARROW, fontSize: TITLE_SIZE, fontWeight: 'normal', color: '#000',
      rich: {t: {fontFamily: '"DejaVu Sans"', fontSize: 12, color: '#000', padding: [0, 10, 0, 0]}}}
  },
  grid: [
    {left: LEFT, right: W - RIGHT_EDGE, top: TOP, bottom: H - BOTTOM_EDGE, show: true, borderColor: '#000', borderWidth: 1, backgroundColor: 'transparent', z: 1},
    {left: LEFT, right: W - RIGHT_EDGE, top: grid1Top, bottom: grid1Bottom, show: false},
    {left: LEFT + BAND / 2, right: W - RIGHT_EDGE, top: TOP, bottom: H - BOTTOM_EDGE, show: false}
  ],
  xAxis: [
    {
      type: 'category', gridIndex: 0, data: slots, boundaryGap: true,
      axisLine: {show: true, lineStyle: {color: '#000', width: 1}},
      axisTick: {show: true, alignWithLabel: true, length: 5, lineStyle: {color: '#000'}, interval: labelFilter},
      axisLabel: {show: true, align: 'left', margin: 5, fontFamily: NARROW, fontSize: TIME_SIZE, color: '#000',
        interval: labelFilter,
        formatter: (val, idx) => timeLabels[Math.round(idx / LABELS_EVERY)] || ''},
      splitLine: {show: false}
    },
    {type: 'value', gridIndex: 1, min: 0, max: 1, show: false},
    {
      type: 'value', gridIndex: 2, min: 0, max: SLOT_COUNT - 0.5, interval: GRID_EVERY,
      axisLine: {show: false}, axisTick: {show: false}, axisLabel: {show: false},
      splitLine: {show: true, lineStyle: {color: GRIDCOLOR, type: [4, 3], width: 1}}
    }
  ],
  yAxis: [
    {type: 'value', gridIndex: 0, position: 'right', min: PRICE_MIN, max: PRICE_MAX,
      axisLine: {show: false}, axisTick: {show: false}, axisLabel: {show: false}, splitLine: {show: false}},
    {type: 'value', gridIndex: 1, position: 'right', min: TICK_MIN, max: TICK_MAX, interval: TICK_STEP,
      axisLine: {show: false},
      axisTick: {show: true, length: 5, lineStyle: {color: '#000'}},
      axisLabel: {show: true, margin: 11, fontFamily: SANS, fontSize: 18, color: '#000',
        formatter: (v) => yTickLabels[Math.max(0, Math.min(yTickLabels.length - 1, Math.round((v - TICK_MIN) / TICK_STEP)))]},
      splitLine: {show: true, lineStyle: {color: GRIDCOLOR, type: [4, 3], width: 1}}},
    {type: 'value', gridIndex: 2, min: 0, max: 1, show: false}
  ],
  series: [
    {
      name: 'bid', type: 'custom', xAxisIndex: 0, yAxisIndex: 0, z: 3, silent: true, clip: false,
      renderItem: renderBid, encode: {x: 0, y: 1}, data: [[0, bidPrice]]
    },
    {
      name: symbolName, type: 'candlestick', xAxisIndex: 0, yAxisIndex: 0, data: candles, z: 4,
      large: false, progressive: 0, barWidth: 2.5, clip: true, silent: true,
      itemStyle: {color: '#ffffff', color0: '#000000', borderColor: '#000000', borderColor0: '#000000', borderWidth: 1}
    },
    {
      name: 'levels', type: 'custom', xAxisIndex: 0, yAxisIndex: 0, z: 5, silent: true, clip: false,
      renderItem: renderLevel, encode: {x: 0, y: 1},
      data: levelValues.map((v, k) => [k, v])
    },
    {
      name: 'signal', type: 'scatter', xAxisIndex: 0, yAxisIndex: 0, z: 7, silent: true,
      symbol: 'path://M3,0 L10,7 L17,0 L20,3 L13,10 L20,17 L17,20 L10,13 L3,20 L0,17 L7,10 L0,3 Z',
      symbolSize: [32, 27],
      itemStyle: {color: '#EA4444', shadowBlur: 4, shadowColor: 'rgba(0,0,0,0.35)', shadowOffsetY: 2},
      data: [[signalBar, signalCrossPrice]],
      markLine: {silent: true, animation: false, symbol: ['triangle', 'triangle'], symbolSize: [21, 20],
        label: {show: false},
        lineStyle: {color: '#17A589', type: [6, 4], width: 6},
        data: [[{coord: [signalBar, signalArrowTop]}, {coord: [signalBar, signalArrowBottom]}]]}
    }
  ],
  graphic: [
    {type: 'rect', shape: {x: 0, y: 0, width: W, height: 3}, style: {fill: '#ADADAD'}, silent: true, z: 100},
    {type: 'rect', shape: {x: 0, y: H - 4, width: W, height: 4}, style: {fill: '#E4E4E4'}, silent: true, z: 100},
    {type: 'polygon', shape: {points: [[2613, 5], [2633, 5], [2623, 15]]}, style: {fill: '#A8A8A8'}, silent: true, z: 100}
  ]
});
</script></body></html>
